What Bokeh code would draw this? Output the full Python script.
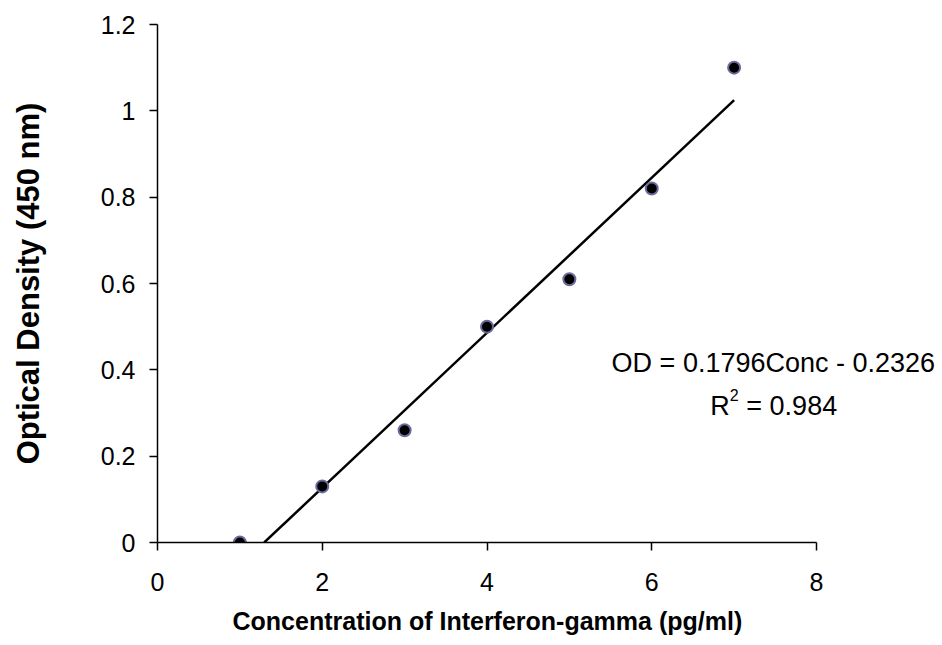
from bokeh.plotting import figure
from bokeh.models import Range1d, Label, Title
from bokeh.embed import file_html
from bokeh.resources import INLINE

# Data
conc = [1, 2, 3, 4, 5, 6, 7]
od = [0.0, 0.13, 0.26, 0.50, 0.61, 0.82, 1.10]
slope = 0.1796
intercept = -0.2326
x_ticks = [0, 2, 4, 6, 8]
y_ticks = [0, 0.2, 0.4, 0.6, 0.8, 1.0, 1.2]
x_title = "Concentration of Interferon-gamma (pg/ml)"
y_title = "Optical Density (450 nm)"
eq_text = "OD = 0.1796Conc - 0.2326"
r2_text = "= 0.984"

FONT = "Liberation Sans"

# Frame spans to the right edge so the equation text is not clipped;
# the x axis line itself is bounded to 0..8.
X_MAX = 8
FRAME_LEFT, AXIS_RIGHT, W = 157, 816, 942
x_end = X_MAX * (W - FRAME_LEFT) / (AXIS_RIGHT - FRAME_LEFT)

p = figure(width=W, height=645, output_backend="svg", toolbar_location=None,
           x_range=Range1d(0, x_end), y_range=Range1d(0, 1.2),
           min_border_left=FRAME_LEFT, min_border_right=0,
           min_border_top=24, min_border_bottom=103)
p.outline_line_color = None
p.xgrid.grid_line_color = None
p.ygrid.grid_line_color = None
p.background_fill_color = "white"
p.border_fill_color = "white"

for ax in (p.xaxis[0], p.yaxis[0]):
    ax.axis_line_color = "black"
    ax.axis_line_width = 1.5
    ax.major_tick_line_color = "black"
    ax.major_tick_line_width = 1.5
    ax.major_tick_out = 8
    ax.major_tick_in = 0
    ax.minor_tick_line_color = None
    ax.major_label_text_font = FONT
    ax.major_label_text_font_size = "25px"
    ax.major_label_text_color = "black"
    ax.axis_label_text_font = FONT
    ax.axis_label_text_font_style = "bold"
    ax.axis_label_text_color = "black"

p.xaxis.bounds = (0, X_MAX)
p.xaxis.ticker = x_ticks
p.yaxis.ticker = y_ticks
p.yaxis.major_label_overrides = {0: "0", 0.2: "0.2", 0.4: "0.4", 0.6: "0.6",
                                 0.8: "0.8", 1.0: "1", 1.2: "1.2"}
p.yaxis.axis_label = y_title
p.yaxis.axis_label_text_font_size = "31px"
p.xaxis.major_label_standoff = 22
p.yaxis.major_label_standoff = 14
p.yaxis.axis_label_standoff = 52

# X axis title placed under the 0..8 axis span
t = Title(text=x_title, align="left", offset=75, text_font=FONT,
          text_font_size="25px", text_font_style="bold", text_color="black",
          standoff=22)
p.add_layout(t, "below")

# Trend line from the fitted equation
x0 = -intercept / slope
x_fit = [x0, max(conc)]
y_fit = [slope * x + intercept for x in x_fit]
p.line(x_fit, y_fit, line_color="black", line_width=2.5)

# Data points
p.scatter(conc, od, size=12, fill_color="black", line_color="#6b6b9e", line_width=2)

# Equation labels
ax_x = 7.476
p.add_layout(Label(x=ax_x, y=0.415, text=eq_text, text_align="center",
                   text_baseline="alphabetic", text_font=FONT,
                   text_font_size="27px", text_color="black"))
p.add_layout(Label(x=ax_x, y=0.316, x_offset=-63, text="R", text_align="left",
                   text_baseline="alphabetic", text_font=FONT,
                   text_font_size="27px", text_color="black"))
p.add_layout(Label(x=ax_x, y=0.316, x_offset=-43.5, y_offset=11, text="2",
                   text_align="left", text_baseline="alphabetic", text_font=FONT,
                   text_font_size="16px", text_color="black"))
p.add_layout(Label(x=ax_x, y=0.316, x_offset=-27, text=r2_text, text_align="left",
                   text_baseline="alphabetic", text_font=FONT,
                   text_font_size="27px", text_color="black"))

open("out.html", "w").write(file_html(p, INLINE))
